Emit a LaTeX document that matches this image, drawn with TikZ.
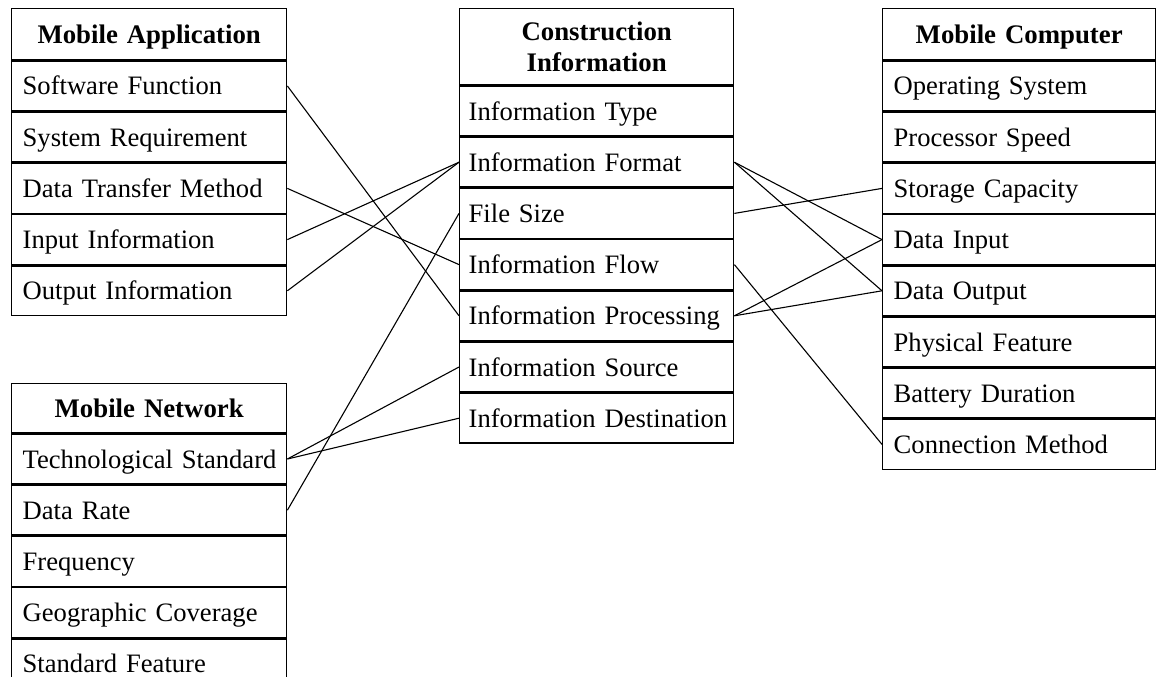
\documentclass[tikz,border=0pt]{standalone}
\usepackage{fontspec}
\setmainfont{Liberation Serif}
\newcommand\cellfont{\fontsize{26.6}{31}\selectfont}
\newcommand\titlefont{\fontsize{26.8}{31}\selectfont\bfseries}
\begin{document}
\begin{tikzpicture}[x=1pt,y=-1pt,
  base/.style={draw, line width=1.4pt, rectangle, anchor=north west, inner ysep=0pt},
  oneline/.style={execute at begin node={\hbox\bgroup}, execute at end node={\egroup}},
  cell/.style={base, oneline, align=left, font=\cellfont, text height=19.5pt, text depth=1.5pt, minimum height=49.8pt},
  head/.style={base, align=center, font=\titlefont, text height=19.5pt, text depth=1.5pt},
  headtwo/.style={base, align=center, font=\titlefont},
  colA/.style={inner xsep=11pt, text width=253pt},
  colB/.style={inner xsep=9pt, text width=256pt},
  colC/.style={inner xsep=11pt, text width=251pt},
  link/.style={line width=1.1pt}]
\useasboundingbox (0,0) rectangle (1157,677);
\clip (0,0) rectangle (1157,677);

% Mobile Application
\node[head, colA, minimum height=51pt] (ma) at (11,8) {Mobile Application};
\node[cell, colA] (ma1) at (ma.south west) {Software Function};
\node[cell, colA] (ma2) at (ma1.south west) {System Requirement};
\node[cell, colA] (ma3) at (ma2.south west) {Data Transfer Method};
\node[cell, colA] (ma4) at (ma3.south west) {Input Information};
\node[cell, colA] (ma5) at (ma4.south west) {Output Information};

% Mobile Network
\node[head, colA, minimum height=49pt] (mn) at (11,383) {Mobile Network};
\node[cell, colA] (mn1) at (mn.south west) {Technological Standard};
\node[cell, colA] (mn2) at (mn1.south west) {Data Rate};
\node[cell, colA] (mn3) at (mn2.south west) {Frequency};
\node[cell, colA] (mn4) at (mn3.south west) {Geographic Coverage};
\node[cell, colA] (mn5) at (mn4.south west) {Standard Feature};

% Construction Information
\node[headtwo, colB, minimum height=76pt] (ci) at (459,8) {Construction\\Information};
\node[cell, colB] (ci1) at (ci.south west) {Information Type};
\node[cell, colB] (ci2) at (ci1.south west) {Information Format};
\node[cell, colB] (ci3) at (ci2.south west) {File Size};
\node[cell, colB] (ci4) at (ci3.south west) {Information Flow};
\node[cell, colB] (ci5) at (ci4.south west) {Information Processing};
\node[cell, colB] (ci6) at (ci5.south west) {Information Source};
\node[cell, colB] (ci7) at (ci6.south west) {Information Destination};

% Mobile Computer
\node[head, colC, minimum height=51pt] (mc) at (882,8) {Mobile Computer};
\node[cell, colC] (mc1) at (mc.south west) {Operating System};
\node[cell, colC] (mc2) at (mc1.south west) {Processor Speed};
\node[cell, colC] (mc3) at (mc2.south west) {Storage Capacity};
\node[cell, colC] (mc4) at (mc3.south west) {Data Input};
\node[cell, colC] (mc5) at (mc4.south west) {Data Output};
\node[cell, colC] (mc6) at (mc5.south west) {Physical Feature};
\node[cell, colC] (mc7) at (mc6.south west) {Battery Duration};
\node[cell, colC] (mc8) at (mc7.south west) {Connection Method};

% links on the left
\draw[link] (ma1.east) -- (ci5.west);
\draw[link] (ma3.east) -- (ci4.west);
\draw[link] (ma4.east) -- (ci2.west);
\draw[link] (ma5.east) -- (ci2.west);
\draw[link] (mn1.east) -- (ci6.west);
\draw[link] (mn1.east) -- (ci7.west);
\draw[link] (mn2.east) -- (ci3.west);

% links on the right
\draw[link] (ci2.east) -- (mc4.west);
\draw[link] (ci2.east) -- (mc5.west);
\draw[link] (ci3.east) -- (mc3.west);
\draw[link] (ci4.east) -- (mc8.west);
\draw[link] (ci5.east) -- (mc4.west);
\draw[link] (ci5.east) -- (mc5.west);
\end{tikzpicture}
\end{document}
